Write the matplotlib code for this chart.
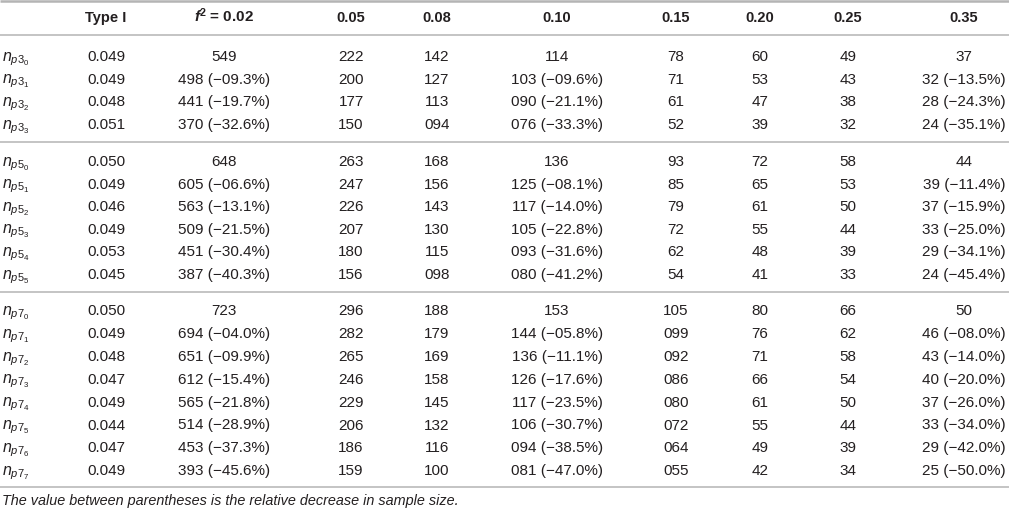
import matplotlib
matplotlib.use("Agg")
import matplotlib.pyplot as plt

plt.rcParams['font.family'] = ['Liberation Sans', 'DejaVu Sans']
plt.rcParams['mathtext.fontset'] = 'custom'
plt.rcParams['mathtext.rm'] = 'Liberation Sans'
plt.rcParams['mathtext.it'] = 'Liberation Sans:italic'
plt.rcParams['mathtext.bf'] = 'Liberation Sans:bold'
plt.rcParams['mathtext.bfit'] = 'Liberation Sans:italic:bold'

# ---- table data ----
headers = ['Type I', r'$\mathbfit{f}^{\mathbf{2}}$ = 0.02', '0.05', '0.08', '0.10',
           '0.15', '0.20', '0.25', '0.35']
group_names = ['3', '5', '7']

type_i = [
    [0.049, 0.049, 0.048, 0.051],
    [0.050, 0.049, 0.046, 0.049, 0.053, 0.045],
    [0.050, 0.049, 0.048, 0.047, 0.049, 0.044, 0.047, 0.049],
]
n_002 = [[549, 498, 441, 370],
         [648, 605, 563, 509, 451, 387],
         [723, 694, 651, 612, 565, 514, 453, 393]]
pct_002 = [[None, 9.3, 19.7, 32.6],
           [None, 6.6, 13.1, 21.5, 30.4, 40.3],
           [None, 4.0, 9.9, 15.4, 21.8, 28.9, 37.3, 45.6]]
n_005 = [[222, 200, 177, 150],
         [263, 247, 226, 207, 180, 156],
         [296, 282, 265, 246, 229, 206, 186, 159]]
n_008 = [[142, 127, 113, 94],
         [168, 156, 143, 130, 115, 98],
         [188, 179, 169, 158, 145, 132, 116, 100]]
n_010 = [[114, 103, 90, 76],
         [136, 125, 117, 105, 93, 80],
         [153, 144, 136, 126, 117, 106, 94, 81]]
pct_010 = [[None, 9.6, 21.1, 33.3],
           [None, 8.1, 14.0, 22.8, 31.6, 41.2],
           [None, 5.8, 11.1, 17.6, 23.5, 30.7, 38.5, 47.0]]
n_015 = [[78, 71, 61, 52],
         [93, 85, 79, 72, 62, 54],
         [105, 99, 92, 86, 80, 72, 64, 55]]
n_020 = [[60, 53, 47, 39],
         [72, 65, 61, 55, 48, 41],
         [80, 76, 71, 66, 61, 55, 49, 42]]
n_025 = [[49, 43, 38, 32],
         [58, 53, 50, 44, 39, 33],
         [66, 62, 58, 54, 50, 44, 39, 34]]
n_035 = [[37, 32, 28, 24],
         [44, 39, 37, 33, 29, 24],
         [50, 46, 43, 40, 37, 33, 29, 25]]
pct_035 = [[None, 13.5, 24.3, 35.1],
           [None, 11.4, 15.9, 25.0, 34.1, 45.4],
           [None, 8.0, 14.0, 20.0, 26.0, 34.0, 42.0, 50.0]]

caption = 'The value between parentheses is the relative decrease in sample size.'

columns = [(n_002, pct_002), (n_005, None), (n_008, None), (n_010, pct_010),
           (n_015, None), (n_020, None), (n_025, None), (n_035, pct_035)]


def fmt(values, pcts, i):
    # pad to the width of the group's first value (e.g. 094 under 142)
    width = len(str(values[0]))
    s = str(values[i]).zfill(width)
    if pcts is not None and pcts[i] is not None:
        s += ' (\u2212%04.1f%%)' % pcts[i]
    return s


# ---- layout (pixels) ----
W, H = 1009, 511
col_x = [106, 224, 351, 437, 557, 676, 760, 848, 964]
label_x = 2
group_top = [56, 161, 310]
pitch = [22.6, 22.6, 22.9]
rules = [35, 142, 292, 487]
text_color = '#231f20'
rule_color = '#b4b4b4'
fs = 11.0
fs_head = 10.5

fig = plt.figure(figsize=(W / 100, H / 100), dpi=100)
ax = fig.add_axes([0, 0, 1, 1])
ax.set_xlim(0, W)
ax.set_ylim(H, 0)
ax.axis('off')

# rules
ax.plot([0, W], [1.2, 1.2], color=rule_color, lw=1.8, solid_capstyle='butt')
for y in rules:
    ax.plot([0, W], [y, y], color=rule_color, lw=1.1, solid_capstyle='butt')

# header
for j, (x, h) in enumerate(zip(col_x, headers)):
    ax.text(x, 17 + 5, h, ha='center', va='baseline',
            fontsize=fs_head + (0.5 if j == 1 else 0),
            fontweight='bold', color=text_color)

# body
for g, name in enumerate(group_names):
    for i in range(len(type_i[g])):
        yb = group_top[g] + i * pitch[g] + 5
        ax.text(label_x, yb, r'$n_{p%s_{%d}}$' % (name, i), ha='left',
                va='baseline', fontsize=fs + 0.5, color=text_color)
        ax.text(col_x[0], yb, '%.3f' % type_i[g][i], ha='center',
                va='baseline', fontsize=fs, color=text_color)
        for x, (vals, pcts) in zip(col_x[1:], columns):
            ax.text(x, yb, fmt(vals[g], None if pcts is None else pcts[g], i),
                    ha='center', va='baseline', fontsize=fs, color=text_color)

ax.text(label_x, 501 + 4, caption, ha='left', va='baseline', fontsize=10.4,
        style='italic', color=text_color)

fig.savefig('out.png', dpi=100)
